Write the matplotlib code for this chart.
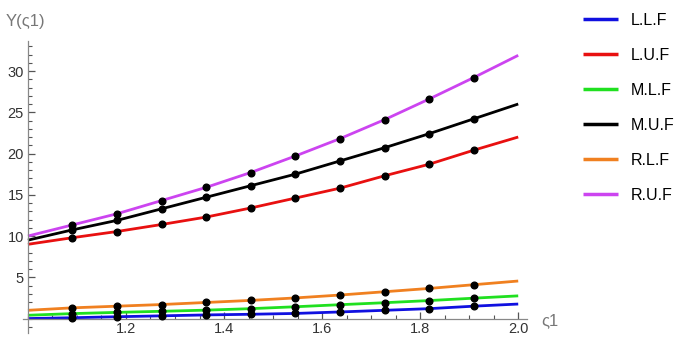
import matplotlib
matplotlib.use("Agg")
import matplotlib.pyplot as plt
from matplotlib.ticker import MultipleLocator, FixedLocator

plt.rcParams['font.family'] = ['Liberation Sans', 'DejaVu Sans']

# sample positions (sigma_1)
x_vals = [1.0, 1.0909, 1.1818, 1.2727, 1.3636, 1.4545, 1.5455,
          1.6364, 1.7273, 1.8182, 1.9091, 2.0]

labels = ["L.L.F", "L.U.F", "M.L.F", "M.U.F", "R.L.F", "R.U.F"]
LLF = [0.0, 0.1, 0.22, 0.33, 0.44, 0.52, 0.62, 0.8, 1.0, 1.2, 1.5, 1.76]
LUF = [9.0, 9.8, 10.55, 11.4, 12.3, 13.4, 14.6, 15.8, 17.3, 18.7, 20.4, 22.0]
MLF = [0.4, 0.6, 0.75, 0.88, 1.02, 1.2, 1.43, 1.68, 1.92, 2.18, 2.47, 2.75]
MUF = [9.5, 10.75, 11.9, 13.3, 14.7, 16.1, 17.5, 19.1, 20.7, 22.4, 24.2, 26.0]
RLF = [1.0, 1.3, 1.5, 1.7, 1.95, 2.2, 2.5, 2.85, 3.25, 3.65, 4.1, 4.55]
RUF = [10.0, 11.35, 12.7, 14.3, 15.9, 17.7, 19.7, 21.8, 24.1, 26.6, 29.2, 31.9]

series = [LLF, LUF, MLF, MUF, RLF, RUF]
colors = ["#1010e0", "#e81010", "#20e020", "#000000", "#f08020", "#cc44f0"]

x_ticks = [1.2, 1.4, 1.6, 1.8, 2.0]
y_ticks = [5, 10, 15, 20, 25, 30]

fig = plt.figure(figsize=(6.85, 3.38), dpi=100)
ax = fig.add_axes([0.0336, 0.0148, 0.7358, 0.863])

handles = []
for ys, c, lab in zip(series, colors, labels):
    h, = ax.plot(x_vals, ys, color=c, lw=2.0, label=lab, zorder=2,
                 solid_capstyle='butt')
    handles.append(h)
    ax.plot(x_vals[1:-1], ys[1:-1], 'o', color='black', ms=4.8, zorder=3)

ax.set_xlim(0.99, 2.018)
ax.set_ylim(-1.75, 33.6)

for s in ['top', 'right']:
    ax.spines[s].set_visible(False)
ax.spines['left'].set_position(('data', 1.0))
ax.spines['bottom'].set_position(('data', 0.0))
for s in ['left', 'bottom']:
    ax.spines[s].set_color('#888888')
    ax.spines[s].set_linewidth(0.9)

ax.xaxis.set_major_locator(FixedLocator(x_ticks))
ax.xaxis.set_minor_locator(MultipleLocator(0.05))
ax.yaxis.set_major_locator(FixedLocator(y_ticks))
ax.yaxis.set_minor_locator(MultipleLocator(1))
ax.tick_params(which='major', direction='in', length=5, width=0.9,
               color='#555555', labelsize=10.5, labelcolor='#333333')
ax.tick_params(which='minor', direction='in', length=3, width=0.8,
               color='#555555')
ax.tick_params(axis='x', pad=2.5)
ax.tick_params(axis='y', pad=3)

fig.text(0.008, 0.935, "Y(ς1)", fontsize=12, color='#777777', ha='left', va='center')
fig.text(0.79, 0.05, "ς1", fontsize=12, color='#777777', ha='left', va='center')

fig.legend(handles=handles, labels=labels, loc='upper left',
           bbox_to_anchor=(0.835, 0.995), frameon=False, fontsize=11.5,
           handlelength=2.2, handletextpad=0.75, labelspacing=1.25,
           borderpad=0.2)
for lh in fig.legends[0].get_lines():
    lh.set_linewidth(2.5)

fig.savefig("out.png", dpi=100)
